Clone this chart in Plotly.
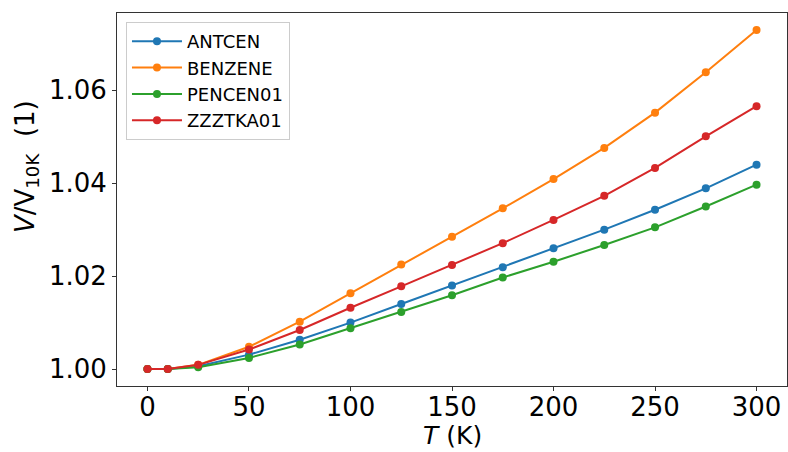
import plotly.graph_objects as go

T = [0, 10, 25, 50, 75, 100, 125, 150, 175, 200, 225, 250, 275, 300]
antcen = [1.0000, 1.0000, 1.0006, 1.0031, 1.0063, 1.0100, 1.0140, 1.0180, 1.0219, 1.0260, 1.0300, 1.0343, 1.0389, 1.0440]
benzene = [1.0000, 1.0000, 1.0009, 1.0048, 1.0102, 1.0163, 1.0225, 1.0285, 1.0346, 1.0409, 1.0476, 1.0552, 1.0639, 1.0730]
pencen01 = [1.0000, 1.0000, 1.0004, 1.0024, 1.0053, 1.0088, 1.0123, 1.0159, 1.0197, 1.0231, 1.0267, 1.0305, 1.0350, 1.0397]
zzztka01 = [1.0000, 1.0000, 1.0009, 1.0042, 1.0084, 1.0132, 1.0178, 1.0224, 1.0271, 1.0321, 1.0373, 1.0433, 1.0501, 1.0566]

names = ["ANTCEN", "BENZENE", "PENCEN01", "ZZZTKA01"]
series = [antcen, benzene, pencen01, zzztka01]
colors = ["#1f77b4", "#ff7f0e", "#2ca02c", "#d62728"]

fig = go.Figure()
for n, s, c in zip(names, series, colors):
    fig.add_trace(go.Scatter(x=T, y=s, name=n, mode="lines+markers",
                             line=dict(color=c, width=2),
                             marker=dict(color=c, size=8)))

font = "DejaVu Sans"
fig.update_layout(
    width=788, height=452,
    margin=dict(l=117, r=1, t=13, b=66),
    plot_bgcolor="white", paper_bgcolor="white",
    font=dict(family=font, color="black"),
    showlegend=True,
    legend=dict(x=0.0134, y=0.976, xanchor="left", yanchor="top",
                bordercolor="#cccccc", borderwidth=1, bgcolor="rgba(255,255,255,0.8)",
                font=dict(size=18, family=font), tracegroupgap=0, itemwidth=50),
)
fig.update_xaxes(range=[-15, 315], tickvals=[0, 50, 100, 150, 200, 250, 300],
                 automargin=False,
                 showline=True, mirror=True, linecolor="#333333", linewidth=1,
                 ticks="outside", ticklen=4, tickcolor="#333333",
                 showgrid=False, zeroline=False, ticklabelstandoff=-6,
                 tickfont=dict(size=26, family=font))
fig.update_yaxes(range=[0.99635, 1.07665], tickvals=[1.00, 1.02, 1.04, 1.06],
                 tickformat=".2f", automargin=False,
                 showline=True, mirror=True, linecolor="#333333", linewidth=1,
                 ticks="outside", ticklen=4, tickcolor="#333333",
                 showgrid=False, zeroline=False,
                 tickfont=dict(size=26, family=font))

fig.add_annotation(text="<i>T</i> (K)", xref="paper", yref="paper", x=0.5, y=-0.134,
                   xanchor="center", yanchor="middle", showarrow=False,
                   font=dict(size=25, family=font, color="black"))
fig.add_annotation(text="<i>V</i>/V<sub>10K</sub>  (1)", xref="paper", yref="paper",
                   x=-0.1358, y=0.587, textangle=-90,
                   xanchor="center", yanchor="middle", showarrow=False,
                   font=dict(size=26, family=font, color="black"))

fig.write_html("out.html", config={"displayModeBar": False},
               post_script="document.body.style.margin='0';document.body.style.overflow='hidden';")
